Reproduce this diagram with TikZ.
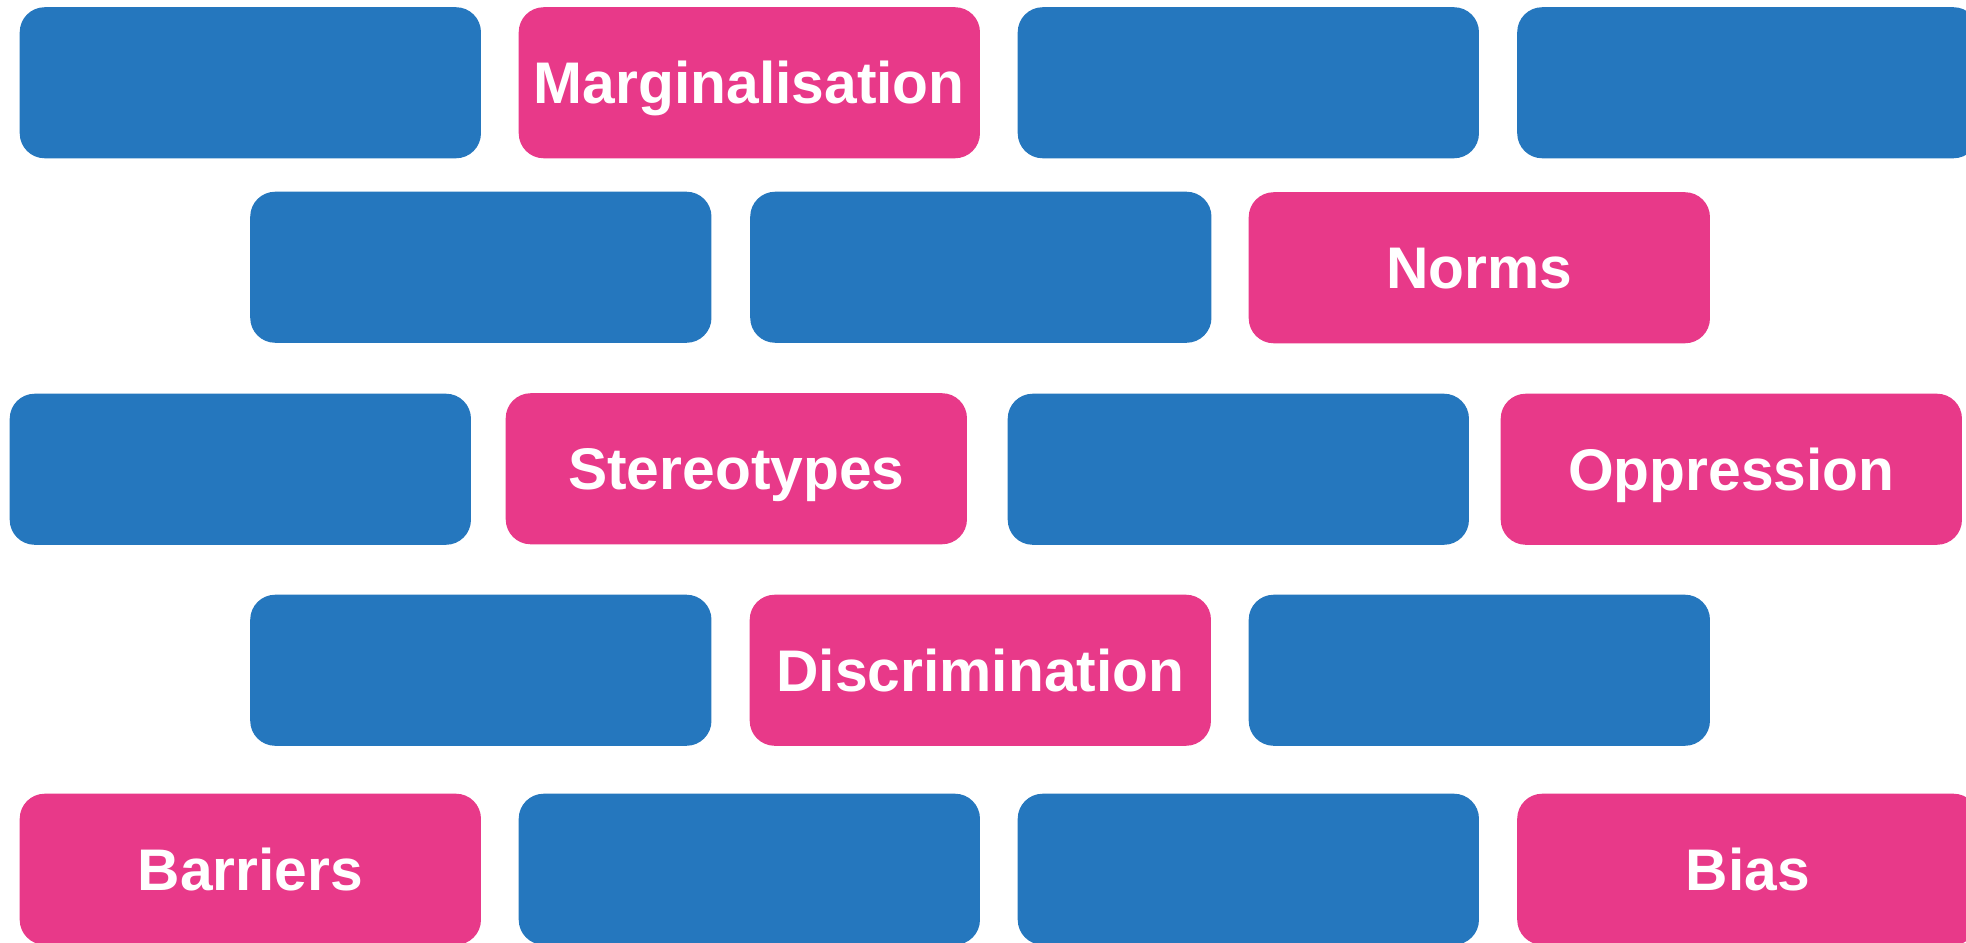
\documentclass[tikz,border=0pt]{standalone}
\usepackage{fontspec}
\setsansfont{Liberation Sans}
\usepackage{xcolor}
\usetikzlibrary{positioning}
\definecolor{brickblue}{RGB}{37,119,190}
\definecolor{brickpink}{RGB}{232,57,137}

\begin{document}
\begin{tikzpicture}[x=0.01cm, y=-0.01cm, font=\sffamily\bfseries\fontsize{16.7}{20}\selectfont,
    brick/.style={rectangle, rounded corners=0.25cm, minimum width=4.61cm, minimum height=1.51cm,
      inner sep=0pt, text=white, text height=12pt, text depth=0pt, anchor=north west},
    blue brick/.style={brick, fill=brickblue},
    pink brick/.style={brick, fill=brickpink}]
  \useasboundingbox (0,0) rectangle (1966,942);
  \clip (0,0) rectangle (1966,942);
  % empty blue bricks
  \foreach \x/\y/\name in {19/6.5/r1a, 1017/6.5/r1c, 1516.5/6.5/r1d,
      249.5/191/r2a, 749.5/191/r2b,
      9/393/r3a, 1007/393/r3c,
      249.5/594/r4a, 1248/594/r4c,
      518/793/r5b, 1017/793/r5c}
    \node[blue brick] (\name) at (\x,\y) {};
  % labelled pink bricks
  \node[pink brick] (marg) at (518,6.5) {Marginalisation};
  \node[pink brick] (norms) at (1248,191.5) {Norms};
  \node[pink brick] (stereo) at (505,392.5) {Stereotypes};
  \node[pink brick] (oppr) at (1500,393) {Oppression};
  \node[pink brick] (discr) at (749,594) {Discrimination};
  \node[pink brick] (barr) at (19,793) {Barriers};
  \node[pink brick] (bias) at (1516.5,793) {Bias};
\end{tikzpicture}
\end{document}
